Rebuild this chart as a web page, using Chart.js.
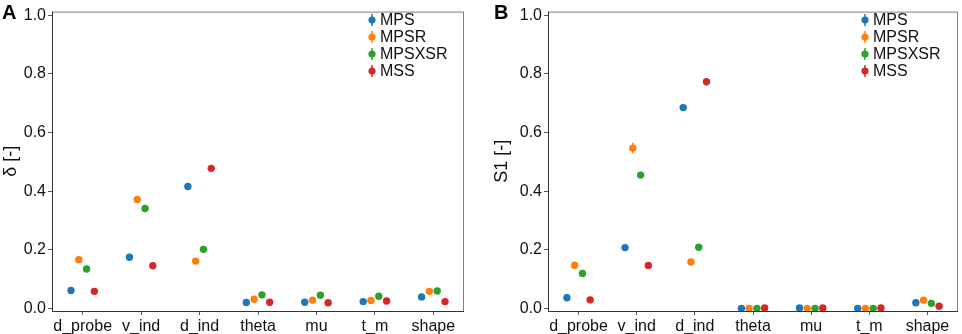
<!DOCTYPE html>
<html>
<head>
<meta charset="utf-8">
<script src="https://cdn.jsdelivr.net/npm/chart.js@4"></script>
<style>
  body { margin: 0; background: #fff; }
  .panel { position: absolute; top: 0; height: 334px; }
</style>
</head>
<body>
<div class="panel" style="left:0;width:480px"><canvas id="chartA" width="480" height="334"></canvas></div>
<div class="panel" style="left:480px;width:482px"><canvas id="chartB" width="482" height="334"></canvas></div>
<script>
const categories = ['d_probe', 'v_ind', 'd_ind', 'theta', 'mu', 't_m', 'shape'];
const seriesNames = ['MPS', 'MPSR', 'MPSXSR', 'MSS'];
const colors = ['#1f77b4', '#ff7f0e', '#2ca02c', '#d62728'];
const yTicks = [0, 0.2, 0.4, 0.6, 0.8, 1.0];

// delta index (panel A)
const deltaMPS    = [0.062, 0.175, 0.416, 0.021, 0.022, 0.024, 0.040];
const deltaMPSR   = [0.167, 0.372, 0.162, 0.032, 0.029, 0.028, 0.059];
const deltaMPSXSR = [0.135, 0.341, 0.202, 0.047, 0.046, 0.042, 0.060];
const deltaMSS    = [0.059, 0.146, 0.478, 0.022, 0.020, 0.026, 0.024];
const deltaErr    = [0.004, 0.005, 0.005, 0.002, 0.002, 0.002, 0.003];

// first order index (panel B)
const s1MPS    = [0.037, 0.208, 0.685, 0.001, 0.002, 0.001, 0.020];
const s1MPSR   = [0.148, 0.547, 0.159, 0.001, 0.001, 0.001, 0.029];
const s1MPSXSR = [0.120, 0.455, 0.209, 0.001, 0.001, 0.001, 0.018];
const s1MSS    = [0.030, 0.147, 0.773, 0.002, 0.002, 0.002, 0.008];
const s1ErrMPSR = [0.006, 0.018, 0.006, 0.001, 0.001, 0.001, 0.003];
const s1Err    = [0.004, 0.005, 0.005, 0.001, 0.001, 0.001, 0.003];

// dodge offsets of the four series inside each category
const dodge = [-0.2, -0.067, 0.067, 0.2];

const FONT = "'Liberation Sans', Arial, sans-serif";

const boxAndLegend = {
  id: 'boxAndLegend',
  beforeDatasetsDraw(chart) {
    // error bars
    const ctx = chart.ctx, xs = chart.scales.x, ys = chart.scales.y;
    ctx.save();
    ctx.lineWidth = 1.5;
    chart.data.datasets.forEach(ds => {
      ctx.strokeStyle = ds.backgroundColor;
      ds.data.forEach(p => {
        const x = xs.getPixelForValue(p.x);
        ctx.beginPath();
        ctx.moveTo(x, ys.getPixelForValue(p.y - p.e));
        ctx.lineTo(x, ys.getPixelForValue(p.y + p.e));
        ctx.stroke();
      });
    });
    ctx.restore();
  },
  afterDraw(chart, args, opts) {
    const ctx = chart.ctx, a = chart.chartArea;
    ctx.save();
    ctx.strokeStyle = '#7f7f7f';
    ctx.lineWidth = 1;
    ctx.strokeRect(a.left + 0.5, a.top + 0.5, a.right - a.left - 1, a.bottom - a.top);
    ctx.strokeStyle = '#333';
    ctx.beginPath();
    ctx.moveTo(a.left + 0.5, a.top);
    ctx.lineTo(a.left + 0.5, a.bottom + 0.5);
    ctx.lineTo(a.right, a.bottom + 0.5);
    ctx.stroke();

    // legend
    ctx.font = '16px ' + FONT;
    ctx.textBaseline = 'middle';
    chart.data.datasets.forEach((ds, i) => {
      const y = opts.legendY + i * 17;
      ctx.strokeStyle = ds.backgroundColor;
      ctx.fillStyle = ds.backgroundColor;
      ctx.lineWidth = 1.5;
      ctx.beginPath();
      ctx.moveTo(opts.legendX, y - 6);
      ctx.lineTo(opts.legendX, y + 6);
      ctx.stroke();
      ctx.beginPath();
      ctx.arc(opts.legendX, y, 3.6, 0, Math.PI * 2);
      ctx.fill();
      ctx.fillStyle = '#111';
      ctx.fillText(ds.label, opts.legendX + 8, y + 1);
    });

    // panel letter
    ctx.font = 'bold 20px ' + FONT;
    ctx.textBaseline = 'top';
    ctx.fillStyle = '#000';
    ctx.fillText(opts.letter, opts.letterX, 3);
    ctx.restore();
  }
};

function makeChart(id, seriesList, errList, yTitle, cfg) {
  new Chart(document.getElementById(id), {
    type: 'scatter',
    data: {
      datasets: seriesList.map((vals, k) => ({
        label: seriesNames[k],
        data: vals.map((v, i) => ({ x: i + dodge[k], y: v, e: errList[k][i] })),
        backgroundColor: colors[k],
        borderColor: colors[k],
        pointRadius: 3.7,
        pointBorderWidth: 0
      }))
    },
    options: {
      responsive: false,
      animation: false,
      devicePixelRatio: 1,
      layout: { padding: { left: 0, right: cfg.padRight, top: 5, bottom: 0 } },
      plugins: {
        legend: { display: false },
        tooltip: { enabled: false },
        boxAndLegend: { legendX: cfg.legendX, legendY: 20, letter: cfg.letter, letterX: cfg.letterX }
      },
      scales: {
        x: {
          type: 'linear',
          min: -0.525,
          max: 6.525,
          afterBuildTicks: s => { s.ticks = categories.map((c, i) => ({ value: i })); },
          afterFit: s => { s.height = 23; },
          ticks: {
            autoSkip: false,
            maxRotation: 0,
            padding: 2,
            color: '#111',
            font: { family: FONT, size: 16 },
            callback: v => categories[v]
          },
          grid: { drawOnChartArea: false, tickLength: 4, color: '#555' },
          border: { display: false }
        },
        y: {
          min: -0.008,
          max: 1.012,
          afterBuildTicks: s => { s.ticks = yTicks.map(v => ({ value: v })); },
          afterFit: s => { s.width = cfg.yWidth; },
          ticks: {
            padding: 2,
            color: '#111',
            font: { family: FONT, size: 16 },
            callback: v => v.toFixed(1)
          },
          grid: { drawOnChartArea: false, tickLength: 4, color: '#555' },
          border: { display: false },
          title: {
            display: true,
            text: yTitle,
            color: '#111',
            font: { family: FONT, size: 18 },
            padding: { top: cfg.titlePad, bottom: 0 }
          }
        }
      }
    },
    plugins: [boxAndLegend]
  });
}

makeChart('chartA',
  [deltaMPS, deltaMPSR, deltaMPSXSR, deltaMSS],
  [deltaErr, deltaErr, deltaErr, deltaErr],
  'δ [-]',
  { padRight: 16, yWidth: 52, titlePad: 0, legendX: 372, letter: 'A', letterX: 2 });

makeChart('chartB',
  [s1MPS, s1MPSR, s1MPSXSR, s1MSS],
  [s1Err, s1ErrMPSR, s1Err, s1Err],
  'S1 [-]',
  { padRight: 3, yWidth: 68, titlePad: 11, legendX: 385, letter: 'B', letterX: 14 });
</script>
</body>
</html>
